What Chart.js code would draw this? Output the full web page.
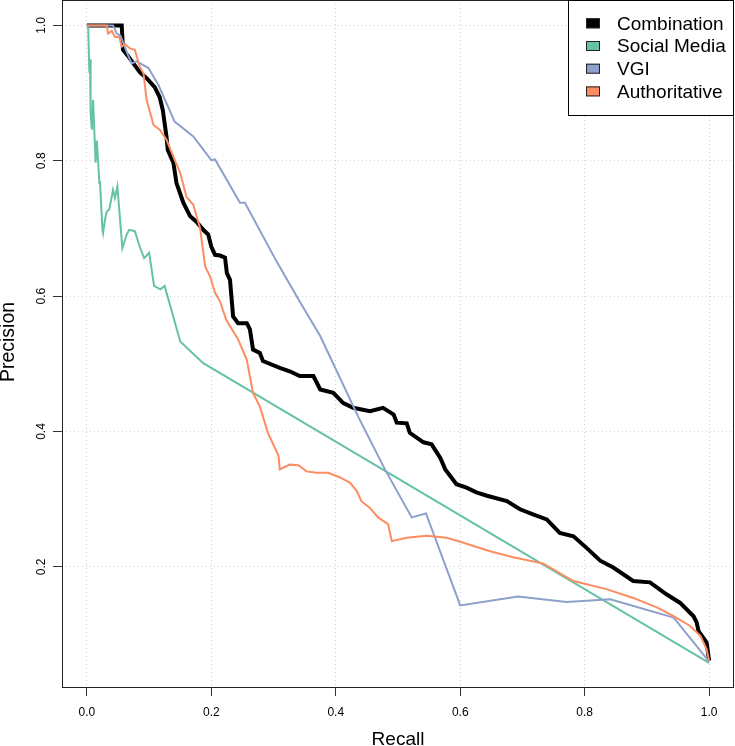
<!DOCTYPE html>
<html>
<head>
<meta charset="utf-8">
<script src="https://cdn.jsdelivr.net/npm/chart.js@4.4.0/dist/chart.umd.min.js"></script>
<style>
  html, body { margin: 0; padding: 0; background: #fff; }
  canvas { display: block; }
</style>
</head>
<body>
<canvas id="prChart" width="735" height="746" style="width:735px;height:746px;"></canvas>
<script>
// axis ticks
const xTicks = [0, 0.2, 0.4, 0.6, 0.8, 1.0];
const yTicks = [0.2, 0.4, 0.6, 0.8, 1.0];

const seriesNames = ["Combination", "Social Media", "VGI", "Authoritative"];
const seriesColors = ["#000000", "#66C2A5", "#8DA0CB", "#FC8D62"];

// Combination
const combRecall = [0, 0.056, 0.058, 0.066, 0.085, 0.096, 0.109, 0.117, 0.122, 0.128, 0.130, 0.139, 0.144, 0.155, 0.166,
  0.176, 0.187, 0.195, 0.200, 0.206, 0.214, 0.222, 0.225, 0.230, 0.235, 0.243, 0.257, 0.262, 0.267, 0.278, 0.283,
  0.310, 0.326, 0.342, 0.364, 0.375, 0.396, 0.412, 0.428, 0.455, 0.476, 0.493, 0.498, 0.514, 0.519, 0.541, 0.554,
  0.568, 0.576, 0.594, 0.610, 0.626, 0.643, 0.675, 0.696, 0.718, 0.739, 0.760, 0.782, 0.803, 0.825, 0.846, 0.878,
  0.905, 0.932, 0.953, 0.975, 0.980, 0.983, 0.996, 1.0];
const combPrecision = [1, 1, 0.964, 0.955, 0.931, 0.922, 0.909, 0.894, 0.875, 0.835, 0.816, 0.797, 0.767, 0.738, 0.718,
  0.710, 0.698, 0.691, 0.673, 0.661, 0.660, 0.657, 0.634, 0.624, 0.570, 0.560, 0.560, 0.551, 0.521, 0.516, 0.504,
  0.494, 0.489, 0.482, 0.482, 0.462, 0.457, 0.442, 0.435, 0.430, 0.435, 0.425, 0.413, 0.412, 0.398, 0.384, 0.381,
  0.361, 0.344, 0.322, 0.317, 0.310, 0.305, 0.297, 0.285, 0.277, 0.270, 0.250, 0.245, 0.228, 0.209, 0.199, 0.179,
  0.177, 0.159, 0.147, 0.127, 0.118, 0.105, 0.088, 0.061];

// Social Media
const socialRecall = [0.002, 0.004, 0.005, 0.006, 0.008, 0.010, 0.013, 0.014, 0.016, 0.018, 0.020, 0.021, 0.025, 0.026,
  0.029, 0.032, 0.036, 0.042, 0.045, 0.049, 0.057, 0.064, 0.068, 0.077, 0.085, 0.092, 0.100, 0.108, 0.118, 0.125,
  0.150, 0.187, 1.0];
const socialPrecision = [1.0, 0.93, 0.95, 0.87, 0.846, 0.89, 0.82, 0.797, 0.83, 0.80, 0.767, 0.77, 0.698, 0.693,
  0.713, 0.725, 0.728, 0.757, 0.745, 0.762, 0.671, 0.691, 0.698, 0.696, 0.673, 0.656, 0.664, 0.615, 0.610, 0.615,
  0.533, 0.501, 0.058];

// VGI
const vgiRecall = [0, 0.042, 0.048, 0.054, 0.066, 0.072, 0.080, 0.099, 0.115, 0.141, 0.171, 0.200, 0.206, 0.246, 0.254,
  0.305, 0.342, 0.375, 0.436, 0.479, 0.522, 0.545, 0.600, 0.693, 0.771, 0.841, 0.943, 1.0];
const vgiPrecision = [1, 1, 0.988, 0.985, 0.956, 0.944, 0.947, 0.937, 0.912, 0.858, 0.836, 0.801, 0.802, 0.738, 0.738,
  0.651, 0.592, 0.541, 0.422, 0.344, 0.273, 0.279, 0.143, 0.156, 0.148, 0.152, 0.125, 0.060];

// Authoritative
const authRecall = [0, 0.032, 0.034, 0.040, 0.045, 0.052, 0.056, 0.062, 0.069, 0.077, 0.085, 0.091, 0.096, 0.107, 0.117,
  0.128, 0.139, 0.150, 0.160, 0.171, 0.182, 0.190, 0.198, 0.206, 0.214, 0.224, 0.243, 0.257, 0.267, 0.278, 0.291,
  0.302, 0.308, 0.310, 0.326, 0.340, 0.353, 0.369, 0.388, 0.407, 0.423, 0.434, 0.441, 0.455, 0.468, 0.484, 0.490,
  0.514, 0.546, 0.578, 0.600, 0.648, 0.685, 0.733, 0.782, 0.835, 0.878, 0.916, 0.943, 0.969, 0.986, 0.996, 1.0];
const authPrecision = [1, 1, 0.988, 0.992, 0.983, 0.983, 0.969, 0.972, 0.966, 0.964, 0.939, 0.929, 0.890, 0.853, 0.846,
  0.831, 0.806, 0.782, 0.747, 0.735, 0.700, 0.644, 0.629, 0.605, 0.592, 0.565, 0.536, 0.506, 0.457, 0.437, 0.398,
  0.376, 0.364, 0.344, 0.351, 0.350, 0.341, 0.339, 0.339, 0.332, 0.324, 0.312, 0.297, 0.287, 0.273, 0.263, 0.238,
  0.243, 0.246, 0.243, 0.237, 0.223, 0.214, 0.205, 0.179, 0.167, 0.154, 0.140, 0.127, 0.113, 0.098, 0.078, 0.061];

const toPoints = (xs, ys) => xs.map((x, i) => ({ x: x, y: ys[i] }));

const FONT = "'Liberation Sans', Arial, Helvetica, sans-serif";
Chart.defaults.font.family = FONT;

// box, rotated y labels, axis titles and the legend, R style
const rFrame = {
  id: "rFrame",
  afterDraw(chart) {
    const { ctx, chartArea: a, scales } = chart;
    ctx.save();
    ctx.strokeStyle = "#222";
    ctx.lineWidth = 1;
    ctx.strokeRect(a.left + 0.5, a.top + 0.5, a.right - a.left - 1, a.bottom - a.top);

    ctx.fillStyle = "#000";
    ctx.font = "12px " + FONT;
    ctx.textAlign = "center";
    ctx.textBaseline = "alphabetic";
    yTicks.forEach(v => {
      const py = scales.y.getPixelForValue(v);
      ctx.save();
      ctx.translate(45, py);
      ctx.rotate(-Math.PI / 2);
      ctx.fillText(v.toFixed(1), 0, 0);
      ctx.restore();
    });

    ctx.font = "19px " + FONT;
    ctx.fillText("Recall", (a.left + a.right) / 2, 745);
    ctx.save();
    ctx.font = "19.5px " + FONT;
    ctx.translate(13.5, 342);
    ctx.rotate(-Math.PI / 2);
    ctx.fillText("Precision", 0, 0);
    ctx.restore();

    // legend
    ctx.fillStyle = "#fff";
    ctx.fillRect(568.5, 0.5, 165, 115);
    ctx.strokeStyle = "#000";
    ctx.strokeRect(568.5, 0.5, 165, 115);
    ctx.font = "19px " + FONT;
    ctx.textAlign = "left";
    ctx.textBaseline = "middle";
    seriesNames.forEach((name, i) => {
      const cy = 23.3 + i * 22.7;
      ctx.fillStyle = seriesColors[i];
      ctx.fillRect(586, cy - 5, 14, 10);
      ctx.strokeStyle = "#222";
      ctx.strokeRect(586.5, cy - 4.5, 13, 9);
      ctx.fillStyle = "#000";
      ctx.fillText(name, 617, cy + 1);
    });
    ctx.restore();
  }
};

const lineSet = (i, xs, ys, width, order) => ({
  label: seriesNames[i],
  data: toPoints(xs, ys),
  showLine: true,
  borderColor: seriesColors[i],
  backgroundColor: seriesColors[i],
  borderWidth: width,
  pointRadius: 0,
  tension: 0,
  order: order
});

new Chart(document.getElementById("prChart"), {
  type: "scatter",
  data: {
    datasets: [
      lineSet(0, combRecall, combPrecision, 4, 4),
      lineSet(1, socialRecall, socialPrecision, 2, 3),
      lineSet(2, vgiRecall, vgiPrecision, 2, 2),
      lineSet(3, authRecall, authPrecision, 2, 1)
    ]
  },
  options: {
    responsive: false,
    animation: false,
    layout: { padding: { top: 0, right: 1, left: 0, bottom: 0 } },
    plugins: { legend: { display: false }, tooltip: { enabled: false } },
    scales: {
      x: {
        type: "linear",
        min: -0.04,
        max: 1.04,
        afterBuildTicks: s => { s.ticks = xTicks.map(v => ({ value: v })); },
        afterFit: s => { s.height = 59; },
        grid: { color: "#d3d3d3", lineWidth: 1, tickLength: 9, tickColor: "#333", tickWidth: 1 },
        border: { display: false, dash: [1, 3] },
        ticks: { padding: 9, color: "#000", font: { size: 12 }, maxRotation: 0, callback: v => v.toFixed(1) }
      },
      y: {
        type: "linear",
        min: 0.0224,
        max: 1.0376,
        afterBuildTicks: s => { s.ticks = yTicks.map(v => ({ value: v })); },
        afterFit: s => { s.width = 62; },
        grid: { color: "#d3d3d3", lineWidth: 1, tickLength: 9, tickColor: "#333", tickWidth: 1 },
        border: { display: false, dash: [1, 3] },
        ticks: { display: false }
      }
    }
  },
  plugins: [rFrame]
});
</script>
</body>
</html>
